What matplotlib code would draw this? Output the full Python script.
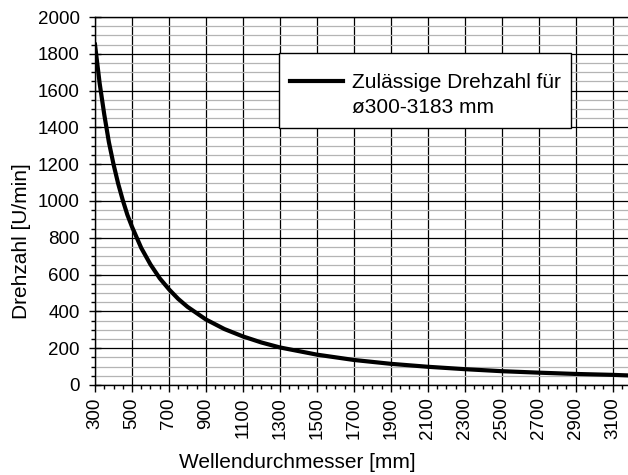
import numpy as np
import matplotlib
matplotlib.use("Agg")
import matplotlib.pyplot as plt
from matplotlib.ticker import MultipleLocator, FixedLocator

plt.rcParams['font.family'] = ['Liberation Sans', 'DejaVu Sans']

# shaft diameter [mm] and permissible speed [U/min]
diameter = [300, 325, 350, 375, 400, 425, 450, 475, 500, 550, 600, 650, 700, 750,
            800, 900, 1000, 1100, 1200, 1300, 1500, 1700, 1900, 2100, 2300,
            2500, 2700, 2900, 3100, 3183]
speed = [1850, 1640, 1470, 1320, 1200, 1095, 1005, 925, 860, 745, 655, 580, 520, 468,
         425, 356, 304, 264, 231, 204, 165, 136, 115, 99, 86,
         75, 67, 60, 55, 52]

x_ticks = list(range(300, 3101, 200))
label = "Zulässige Drehzahl für\nø300-3183 mm"

fig = plt.figure(figsize=(6.28, 4.75), dpi=100)
ax = fig.add_axes([0.1513, 0.1895, 0.8487, 0.7747])

ax.plot(diameter, speed, color='black', lw=3, label=label, zorder=5)

ax.set_xlim(300, 3183)
ax.set_ylim(0, 2000)
ax.xaxis.set_major_locator(FixedLocator(x_ticks))
ax.xaxis.set_minor_locator(MultipleLocator(50))
ax.yaxis.set_major_locator(MultipleLocator(200))
ax.yaxis.set_minor_locator(MultipleLocator(50))

ax.grid(which='major', axis='both', color='black', lw=0.9)
ax.grid(which='minor', axis='y', color='#b4b4b4', lw=0.9)
ax.set_axisbelow(True)

ax.tick_params(axis='x', which='major', direction='out', length=5, width=1,
               labelsize=13.5, labelrotation=90, pad=4)
ax.tick_params(axis='x', which='minor', direction='out', length=3, width=1)
ax.tick_params(axis='y', which='major', direction='inout', length=9, width=1,
               labelsize=13.5, pad=6.5)
ax.tick_params(axis='y', which='minor', direction='out', length=3, width=1)

ax.spines['right'].set_visible(False)
for s in ['left', 'bottom', 'top']:
    ax.spines[s].set_color('black')
    ax.spines[s].set_linewidth(1)

ax.set_xlabel("Wellendurchmesser [mm]", fontsize=15)
ax.set_ylabel("Drehzahl [U/min]", fontsize=15)
ax.xaxis.set_label_coords(0.379, -0.185)
ax.yaxis.set_label_coords(-0.12, 0.391)

# tiny blank title only adds some room above the entry
leg = ax.legend(loc='upper left', bbox_to_anchor=(0.3455, 0.902), borderaxespad=0,
                fancybox=False, framealpha=1, edgecolor='black', fontsize=15,
                handlelength=2.55, handletextpad=0.45, borderpad=0.5,
                labelspacing=0.4, title=" ", title_fontsize=1)
leg.get_frame().set_linewidth(1)
leg.get_texts()[0].set_linespacing(1.42)
# the sample line sits at the first text line, not the middle
h = leg.legend_handles[0]
h.set_ydata(np.asarray(h.get_ydata()) + 10)

fig.savefig("out.png", dpi=100)
